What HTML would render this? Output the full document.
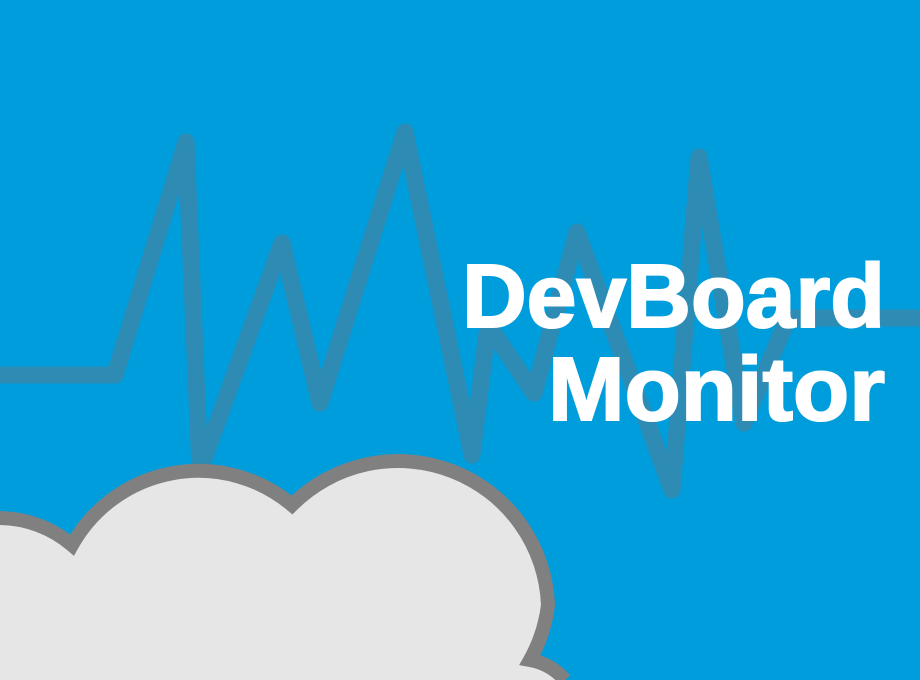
<!DOCTYPE html>
<html><head><style>html,body{margin:0;padding:0;background:#009ddc;width:920px;height:680px;overflow:hidden;}svg{display:block;overflow:hidden}</style></head>
<body>
<svg width="920" height="680" viewBox="0 0 920 680" xmlns="http://www.w3.org/2000/svg">
<clipPath id="c"><rect width="920" height="680"/></clipPath>
<g clip-path="url(#c)">
<rect width="920" height="680" fill="#009ddc"/>
<polyline fill="none" stroke="#2e8bb3" stroke-width="17" stroke-linejoin="round" stroke-linecap="round"
 points="0,375 115,375 186,142 200,470 282,243 320,403 405,132 472,455 488,325 534,393 577,232 672,490 699,157 744,423 788,318 920,318"/>
<path d="M0,518 A113,113 0 0 1 72,545 A145,145 0 0 1 292,505 A150,150 0 0 1 548,605 A150,150 0 0 1 530,660 A60,60 0 0 1 565,680 L0,680 Z" fill="#e6e6e6"/>
<path d="M0,518 A113,113 0 0 1 72,545 A145,145 0 0 1 292,505 A150,150 0 0 1 548,605 A150,150 0 0 1 530,660 A60,60 0 0 1 565,680" fill="none" stroke="#808080" stroke-width="14" stroke-linejoin="miter"/>
<g font-family="'Liberation Sans', sans-serif" font-weight="bold" fill="#ffffff" text-anchor="end" stroke="#ffffff" stroke-width="2">
<text x="885" y="327" font-size="90" textLength="423" lengthAdjust="spacingAndGlyphs">DevBoard</text>
<text x="885" y="420" font-size="90" textLength="337" lengthAdjust="spacingAndGlyphs">Monitor</text>
</g>
</g>
</svg>
</body></html>
